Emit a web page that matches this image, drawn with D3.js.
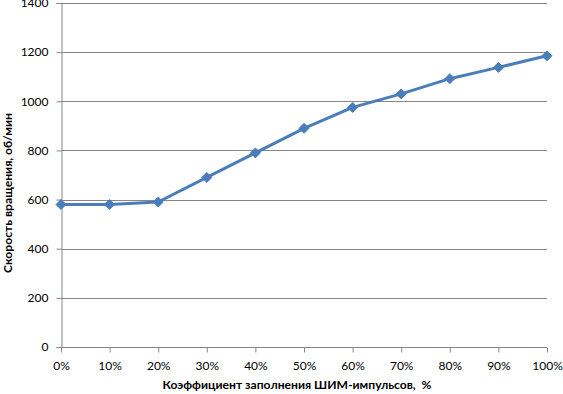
<!DOCTYPE html>
<html>
<head>
<meta charset="utf-8">
<script src="https://cdn.jsdelivr.net/npm/d3@7"></script>
<style>
  body { margin: 0; background: #fff; }
  text { font-family: Lato, "Open Sans", sans-serif; }
</style>
</head>
<body>
<div id="chart"></div>
<script>
// data
var categories = ["0%", "10%", "20%", "30%", "40%", "50%", "60%", "70%", "80%", "90%", "100%"];
var speeds = [580, 580, 590, 690, 790, 890, 975, 1030, 1092, 1138, 1185];
var yTicks = [0, 200, 400, 600, 800, 1000, 1200, 1400];

var margin = {top: 3, right: 16, bottom: 47, left: 61},
    width = 563 - margin.left - margin.right,
    height = 394 - margin.top - margin.bottom;

var svg = d3.select("#chart")
  .append("svg")
    .attr("width", 563)
    .attr("height", 394)
  .append("g")
    .attr("transform", "translate(" + margin.left + "," + margin.top + ")");

var x = d3.scalePoint()
  .domain(categories)
  .range([0, width]);

var y = d3.scaleLinear()
  .domain([0, 1400])
  .range([height, 0]);

// gridlines
svg.append("g")
  .selectAll("line")
  .data(yTicks.slice(1))
  .enter()
  .append("line")
    .attr("x1", 0)
    .attr("x2", width)
    .attr("y1", function(d) { return Math.round(y(d)) + 0.5; })
    .attr("y2", function(d) { return Math.round(y(d)) + 0.5; })
    .attr("stroke", "#868686")
    .attr("stroke-width", 1);

// Y axis
var yAxis = svg.append("g")
  .attr("transform", "translate(0.5,0)")
  .call(d3.axisLeft(y).tickValues(yTicks).tickFormat(d3.format("d")).tickSize(5).tickPadding(8));
yAxis.select(".domain").attr("stroke", "#868686");
yAxis.selectAll(".tick line").attr("stroke", "#868686");
yAxis.selectAll(".tick text").style("font-size", "12px").attr("fill", "#000");

// X axis
var xAxis = svg.append("g")
  .attr("transform", "translate(0," + (height + 0.5) + ")")
  .call(d3.axisBottom(x).tickSize(5).tickPadding(9));
xAxis.select(".domain").attr("stroke", "#868686").attr("d", "M0,0H" + width);
xAxis.selectAll(".tick line").attr("stroke", "#868686");
xAxis.selectAll(".tick text").style("font-size", "12px").attr("fill", "#000");

// X label
svg.append("text")
  .attr("text-anchor", "middle")
  .attr("x", 297 - margin.left)
  .attr("y", height + 42)
  .attr("textLength", 269)
  .attr("lengthAdjust", "spacingAndGlyphs")
  .style("font-size", "12px")
  .style("font-weight", "bold")
  .style("white-space", "pre")
  .text("Коэффициент заполнения ШИМ-импульсов,  %");

// Y label
svg.append("text")
  .attr("text-anchor", "middle")
  .attr("transform", "translate(" + (12 - margin.left) + "," + (193 - margin.top) + ") rotate(-90)")
  .attr("textLength", 160)
  .attr("lengthAdjust", "spacingAndGlyphs")
  .style("font-size", "12px")
  .style("font-weight", "bold")
  .text("Скорость вращения, об/мин");

// line
var line = d3.line()
  .x(function(d, i) { return x(categories[i]); })
  .y(function(d) { return y(d); });

svg.append("path")
  .datum(speeds)
  .attr("fill", "none")
  .attr("stroke", "#4a7ebb")
  .attr("stroke-width", 3)
  .attr("stroke-linejoin", "round")
  .attr("d", line);

// diamond markers
svg.append("g")
  .selectAll("path")
  .data(speeds)
  .enter()
  .append("path")
    .attr("transform", function(d, i) { return "translate(" + x(categories[i]) + "," + y(d) + ")"; })
    .attr("d", "M0,-5L5,0L0,5L-5,0Z")
    .attr("fill", "#4a7ebb")
    .attr("stroke", "#4a7ebb")
    .attr("stroke-width", 1);
</script>
</body>
</html>
